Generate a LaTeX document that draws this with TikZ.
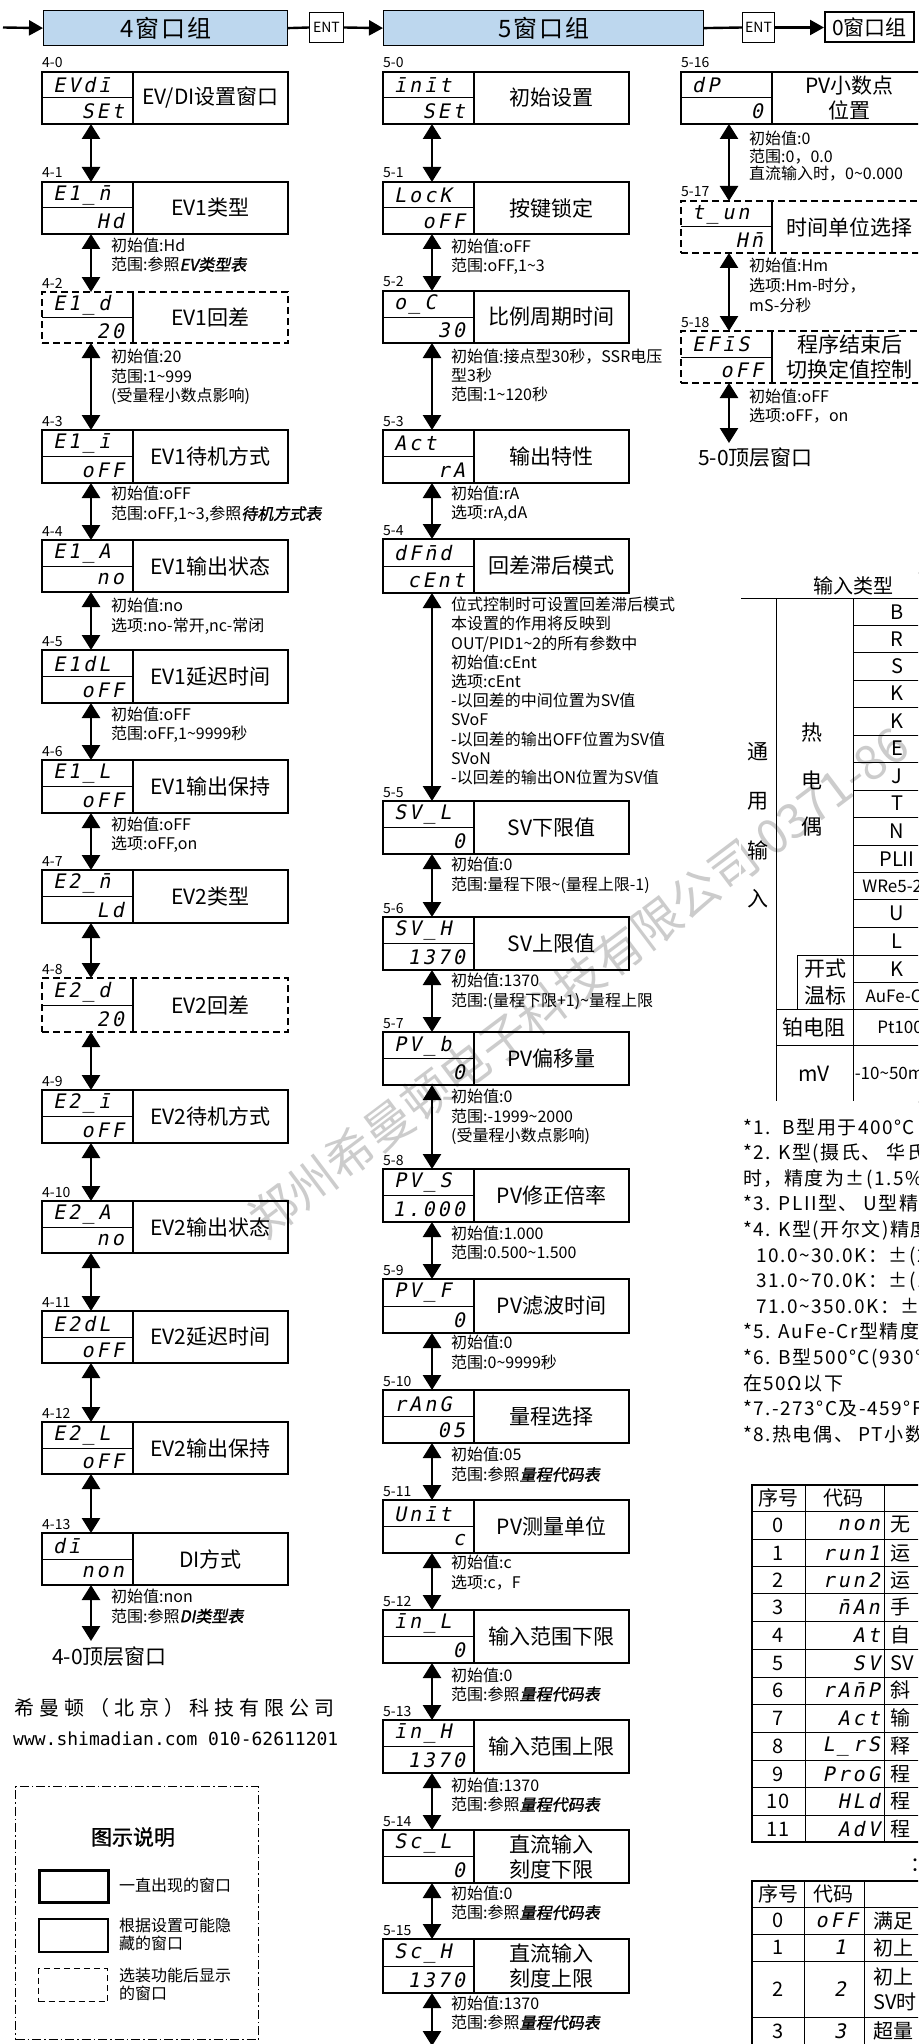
\documentclass[tikz,border=0pt]{standalone}
\usepackage{fontspec}
\setmainfont{Noto Sans CJK SC}
\newfontfamily\segf{DejaVu Sans Mono}[FakeSlant=0.2,LetterSpace=15]
\newfontfamily\bif{Noto Sans CJK SC}[FakeSlant=0.2,FakeBold=1.5]
\newfontfamily\bfnt{Noto Sans CJK SC}[FakeBold=1.2]
\newfontfamily\urlf{DejaVu Sans Mono}
\newfontfamily\cof{Noto Sans CJK SC}[LetterSpace=25]
\newfontfamily\hdf{Noto Sans CJK SC}[LetterSpace=8]
\newfontfamily\fnf{Noto Sans CJK SC}[LetterSpace=8]
\usetikzlibrary{arrows.meta,calc}
\definecolor{hdrblue}{HTML}{BDD7EE}
\newcommand\tl{\textasciitilde}
\newcommand\wb[9]{%
 \node[wbox,#2,minimum height=#5pt,anchor=north west] (#1) at (#3,#4) {};
 \draw[divline] ($(#1.north west)+(91,0)$) -- ($(#1.south west)+(91,0)$);
 \draw[divline,line width=1pt] (#1.west) -- ($(#1.west)+(91,0)$);
 \node[idl] (#1l) at ($(#1.north west)+(0,-4)$) {#6};
 \node[segt,anchor=west] (#1t) at ($(#1.north west)!0.26!(#1.south west)+(11,0)$) {#7};
 \node[segt,anchor=east] (#1b) at ($(#1.north west)!0.76!(#1.south west)+(82,0)$) {#8};
 \node[ttl] (#1n) at ($(#1.center)+(45.5,0)$) {#9};
}
% #3 = baseline of first line
\newcommand\nt[5]{\node[note,font=\fontsize{16}{#4}\selectfont] (#1) at (#2,#3-14) {#5};}
\begin{document}
\begin{tikzpicture}[x=1pt,y=-1pt,
 wbox/.style={draw,line width=2.4pt,rectangle,minimum width=246pt,inner sep=0pt,outer sep=0pt},
 dashbox/.style={line width=1.3pt,dash pattern=on 7pt off 4pt},
 divline/.style={line width=1.2pt},
 idl/.style={font=\fontsize{14}{14}\selectfont,inner sep=0pt,anchor=base west},
 segt/.style={font=\segf\fontsize{20}{20}\selectfont,inner sep=0pt},
 ttl/.style={font=\fontsize{21}{25}\selectfont,align=center,inner sep=0pt},
 dblarr/.style={line width=2.6pt,{Triangle[width=18pt,length=15pt]}-{Triangle[width=18pt,length=15pt]}},
 harr/.style={line width=2.4pt,-{Triangle[width=15pt,length=14pt]}},
 hline/.style={line width=2.4pt},
 note/.style={inner sep=0pt,anchor=north west,align=left},
 hdr/.style={draw,line width=1.2pt,fill=hdrblue,inner sep=0pt,font=\hdf\fontsize{24}{24}\selectfont},
 entb/.style={draw,line width=1pt,fill=white,inner sep=0pt,minimum width=34pt,minimum height=30pt,font=\fontsize{14}{14}\selectfont},
 tline/.style={line width=1pt},
 touter/.style={line width=0.8pt,double,double distance=1.2pt},
 tc/.style={inner sep=0pt,font=\fontsize{20}{20}\selectfont},
 ts/.style={inner sep=0pt,font=\fontsize{17}{17}\selectfont},
 legt/.style={inner sep=0pt,anchor=west,align=left,font=\fontsize{16}{18}\selectfont},
 big/.style={inner sep=0pt,anchor=west,font=\fontsize{21}{21}\selectfont},
]
\useasboundingbox (0,0) rectangle (918,2044);
\begin{scope}
\clip (0,0) rectangle (918,2044);
\fill[white] (0,0) rectangle (918,2044);
% watermark
\node[inner sep=0pt,anchor=west,rotate=37,text=black!20,font=\fontsize{48}{48}\selectfont] (wm) at (254,1226) {郑州希曼顿电子科技有限公司 0371-86};
% header
\coordinate (s0) at (3,27.5);
\node[hdr,minimum width=244pt,minimum height=35pt,anchor=north west] (h4) at (43,10) {4窗口组};
\node[entb,anchor=west] (en1) at (309,27.5) {ENT};
\node[hdr,minimum width=320pt,minimum height=35pt,anchor=north west] (h5) at (383,10) {5窗口组};
\node[entb,anchor=west,minimum width=32pt] (en2) at (742,27.5) {ENT};
\node[draw,line width=2pt,fill=white,inner sep=0pt,minimum width=89pt,minimum height=30pt,anchor=west,font=\fontsize{21}{21}\selectfont] (h0) at (824,27.5) {0窗口组};
\draw[harr] (s0) -- (h4.west);
\draw[hline] (h4.east) -- (en1.west);
\draw[harr] (en1.east) -- (h5.west);
\draw[hline] (h5.east) -- (en2.west);
\draw[harr] (en2.east) -- (h0.west);
% left column
\coordinate (ax4) at (91,0);
\coordinate (ax5) at (432,0);
\coordinate (ax6) at (729,0);
\wb{b40}{}{42}{72}{52}{4-0}{EVd\={i}}{SEt}{EV/DI设置窗口}
\wb{b41}{}{42}{182}{52}{4-1}{E1\_\={n}}{Hd}{EV1类型}
\wb{b42}{dashbox}{42}{292}{51}{4-2}{E1\_d}{20}{EV1回差}
\wb{b43}{}{42}{430}{53}{4-3}{E1\_\={i}}{oFF}{EV1待机方式}
\wb{b44}{}{42}{540}{52}{4-4}{E1\_A}{no}{EV1输出状态}
\wb{b45}{}{42}{650}{53}{4-5}{E1dL}{oFF}{EV1延迟时间}
\wb{b46}{}{42}{760}{53}{4-6}{E1\_L}{oFF}{EV1输出保持}
\wb{b47}{}{42}{870}{53}{4-7}{E2\_\={n}}{Ld}{EV2类型}
\wb{b48}{dashbox}{42}{978}{54}{4-8}{E2\_d}{20}{EV2回差}
\wb{b49}{}{42}{1090}{53}{4-9}{E2\_\={i}}{oFF}{EV2待机方式}
\wb{b410}{}{42}{1201}{52}{4-10}{E2\_A}{no}{EV2输出状态}
\wb{b411}{}{42}{1311}{52}{4-11}{E2dL}{oFF}{EV2延迟时间}
\wb{b412}{}{42}{1422}{52}{4-12}{E2\_L}{oFF}{EV2输出保持}
\wb{b413}{}{42}{1533}{52}{4-13}{d\={i}}{non}{DI方式}
\foreach \a/\b in {b40/b41,b41/b42,b42/b43,b43/b44,b44/b45,b45/b46,b46/b47,b47/b48,b48/b49,b49/b410,b410/b411,b411/b412,b412/b413}
  \draw[dblarr] (\a.south -| ax4) -- (\b.north -| ax4);
\coordinate (e4) at (91,1641);
\draw[dblarr] (b413.south -| ax4) -- (e4);
\nt{n41}{111}{252}{19}{初始值:Hd\\范围:参照{\bif EV类型表}}
\nt{n42}{111}{363}{19.5}{初始值:20\\范围:1\tl{}999\\(受量程小数点影响)}
\nt{n43}{111}{500}{20}{初始值:oFF\\范围:oFF,1\tl{}3,参照{\bif 待机方式表}}
\nt{n44}{111}{612}{20}{初始值:no\\选项:no-常开,nc-常闭}
\nt{n45}{111}{721}{19}{初始值:oFF\\范围:oFF,1\tl{}9999秒}
\nt{n46}{111}{831}{19}{初始值:oFF\\选项:oFF,on}
\nt{n413}{111}{1603}{19.5}{初始值:non\\范围:参照{\bif DI类型表}}
\node[big] (top4) at (52,1657) {4-0顶层窗口};
\node[anchor=west,inner sep=0pt,font=\cof\fontsize{20}{20}\selectfont] (co) at (14,1708) {希曼顿（北京）科技有限公司};
\node[anchor=west,inner sep=0pt,font=\urlf\fontsize{18}{18}\selectfont] (url) at (13,1739) {www.shimadian.com 010-62611201};
% legend
\node[draw,line width=1.2pt,dash pattern=on 9pt off 3pt on 1.5pt off 3pt,minimum width=243pt,minimum height=253pt,inner sep=0pt,anchor=north west] (leg) at (15,1786) {};
\node[inner sep=0pt,font=\bfnt\fontsize{21}{21}\selectfont] (legh) at (133,1837) {图示说明};
\node[draw,line width=3pt,minimum width=69pt,minimum height=32pt,anchor=north west,inner sep=0pt] (lg1) at (38,1869) {};
\node[legt] (lt1) at (119,1885) {一直出现的窗口};
\node[draw,line width=1.5pt,minimum width=69pt,minimum height=33pt,anchor=north west,inner sep=0pt] (lg2) at (38,1918) {};
\node[legt] (lt2) at (119,1934) {根据设置可能隐\\藏的窗口};
\node[draw,line width=1.3pt,dash pattern=on 6pt off 4pt,minimum width=69pt,minimum height=33pt,anchor=north west,inner sep=0pt] (lg3) at (38,1968) {};
\node[legt] (lt3) at (119,1984) {选装功能后显示\\的窗口};
% middle column
\wb{b50}{}{383}{72}{52}{5-0}{\={i}n\={i}t}{SEt}{初始设置}
\wb{b51}{}{383}{182}{52}{5-1}{LocK}{oFF}{按键锁定}
\wb{b52}{}{383}{291}{52}{5-2}{o\_C}{30}{比例周期时间}
\wb{b53}{}{383}{430}{53}{5-3}{Act}{rA}{输出特性}
\wb{b54}{}{383}{539}{54}{5-4}{dF\={n}d}{cEnt}{回差滞后模式}
\wb{b55}{}{383}{801}{53}{5-5}{SV\_L}{0}{SV下限值}
\wb{b56}{}{383}{917}{53}{5-6}{SV\_H}{1370}{SV上限值}
\wb{b57}{}{383}{1032}{53}{5-7}{PV\_b}{0}{PV偏移量}
\wb{b58}{}{383}{1169}{53}{5-8}{PV\_S}{1.000}{PV修正倍率}
\wb{b59}{}{383}{1279}{54}{5-9}{PV\_F}{0}{PV滤波时间}
\wb{b510}{}{383}{1390}{53}{5-10}{rAnG}{05}{量程选择}
\wb{b511}{}{383}{1500}{53}{5-11}{Un\={i}t}{c}{PV测量单位}
\wb{b512}{}{383}{1610}{53}{5-12}{\={i}n\_L}{0}{输入范围下限}
\wb{b513}{}{383}{1720}{53}{5-13}{\={i}n\_H}{1370}{输入范围上限}
\wb{b514}{}{383}{1830}{53}{5-14}{Sc\_L}{0}{直流输入\\刻度下限}
\wb{b515}{}{383}{1939}{54}{5-15}{Sc\_H}{1370}{直流输入\\刻度上限}
\foreach \a/\b in {b50/b51,b51/b52,b52/b53,b53/b54,b54/b55,b55/b56,b56/b57,b57/b58,b58/b59,b59/b510,b510/b511,b511/b512,b512/b513,b513/b514,b514/b515}
  \draw[dblarr] (\a.south -| ax5) -- (\b.north -| ax5);
\coordinate (e5) at (432,2046);
\draw[dblarr] (b515.south -| ax5) -- (e5);
\nt{n51}{451}{253}{19}{初始值:oFF\\范围:oFF,1\tl{}3}
\nt{n52}{451}{363}{19}{初始值:接点型30秒，SSR电压\\型3秒\\范围:1\tl{}120秒}
\nt{n53}{451}{500}{19}{初始值:rA\\选项:rA,dA}
\nt{n54}{451}{611}{19.2}{位式控制时可设置回差滞后模式\\本设置的作用将反映到\\OUT/PID1\tl{}2的所有参数中\\初始值:cEnt\\选项:cEnt\\-以回差的中间位置为SV值\\SVoF\\-以回差的输出OFF位置为SV值\\SVoN\\-以回差的输出ON位置为SV值}
\nt{n55}{451}{871}{20}{初始值:0\\范围:量程下限\tl{}(量程上限-1)}
\nt{n56}{451}{987}{20}{初始值:1370\\范围:(量程下限+1)\tl{}量程上限}
\nt{n57}{451}{1103}{19.5}{初始值:0\\范围:-1999\tl{}2000\\(受量程小数点影响)}
\nt{n58}{451}{1240}{19}{初始值:1.000\\范围:0.500\tl{}1.500}
\nt{n59}{451}{1349}{20}{初始值:0\\范围:0\tl{}9999秒}
\nt{n510}{451}{1461}{20}{初始值:05\\范围:参照{\bif 量程代码表}}
\nt{n511}{451}{1569}{20}{初始值:c\\选项:c，F}
\nt{n512}{451}{1682}{18.5}{初始值:0\\范围:参照{\bif 量程代码表}}
\nt{n513}{451}{1792}{19}{初始值:1370\\范围:参照{\bif 量程代码表}}
\nt{n514}{451}{1900}{19}{初始值:0\\范围:参照{\bif 量程代码表}}
\nt{n515}{451}{2010}{19}{初始值:1370\\范围:参照{\bif 量程代码表}}
% right column
\wb{b516}{}{681}{72}{52}{5-16}{dP}{0}{PV小数点\\位置}
\wb{b517}{dashbox}{681}{201}{52}{5-17}{t\_un}{H\={n}}{时间单位选择}
\wb{b518}{dashbox}{681}{331}{52}{5-18}{EF\={i}S}{oFF}{程序结束后\\切换定值控制}
\draw[dblarr] (b516.south -| ax6) -- (b517.north -| ax6);
\draw[dblarr] (b517.south -| ax6) -- (b518.north -| ax6);
\coordinate (e6) at (729,443);
\draw[dblarr] (b518.south -| ax6) -- (e6);
\nt{n516}{749}{145}{17.5}{初始值:0\\范围:0，0.0\\直流输入时，0\tl{}0.000}
\nt{n517}{749}{272}{20}{初始值:Hm\\选项:Hm-时分，\\mS-分秒}
\nt{n518}{749}{403}{19}{初始值:oFF\\选项:oFF，on}
\node[big] (top5) at (698,458) {5-0顶层窗口};
% input type table
\draw[tline] (776,598.5) -- (776,1102);
\draw[tline] (853,598.5) -- (853,1102);
\foreach \yy in {625.5,652.8,680,707,735,762,790,817,845,872.7,899.6,927.6,955,982.6} \draw[tline] (853,\yy) -- (990,\yy);
\draw[tline] (740,598.5) -- (990,598.5);
\draw[tline] (797,955) -- (853,955);
\draw[tline] (797,955) -- (797,1009);
\draw[tline] (776,1009) -- (990,1009);
\draw[tline] (776,1045) -- (990,1045);
\draw[touter] (990,573) -- (740,573) -- (740,1102) -- (990,1102);
\node[tc] (thd) at (853,586) {输入类型};
\foreach \t/\yy [count=\i] in {B/612,R/639,S/666.4,K/693.5,K/721,E/748.5,J/776,T/803.5,N/831,PLII/859,U/913.6,L/941,K/968.8}
  \node[tc] (tv\i) at (897,\yy) {\t};
\node[ts] (tw1) at (897,886) {WRe5-26};
\node[ts] (tw2) at (897,995.8) {AuFe-Cr};
\node[ts] (tw3) at (900,1027) {Pt100};
\node[ts] (tw4) at (894,1073.5) {-10\tl{}50mV};
\foreach \t/\yy [count=\i] in {通/752,用/801,输/850,入/899}
  \node[tc,font=\fontsize{21}{21}\selectfont] (tg\i) at (758,\yy) {\t};
\foreach \t/\yy [count=\i] in {热/733,电/780,偶/827}
  \node[tc,font=\fontsize{21}{21}\selectfont] (tr\i) at (812,\yy) {\t};
\node[tc,font=\fontsize{21}{21}\selectfont] (tk1) at (825,968.8) {开式};
\node[tc,font=\fontsize{21}{21}\selectfont] (tk2) at (825,995.8) {温标};
\node[tc,font=\fontsize{21}{21}\selectfont] (tpt) at (814,1027) {铂电阻};
\node[tc,font=\fontsize{21}{21}\selectfont] (tmv) at (814,1073.5) {mV};
% footnotes
\node[note,font=\fnf\fontsize{19}{25.6}\selectfont] (fn) at (743,1118) {*1.\ \ B型用于400°C\\*2. K型(摄氏、 华氏\\时，精度为±(1.5\%\\*3. PLII型、 U型精度\\*4. K型(开尔文)精度\\\hspace*{13pt}10.0\tl{}30.0K：±(2\\\hspace*{13pt}31.0\tl{}70.0K：±(1\\\hspace*{13pt}71.0\tl{}350.0K：±\\*5. AuFe-Cr型精度\\*6. B型500°C(930°\\在50Ω以下\\*7.-273°C及-459°F\\*8.热电偶、 PT小数};
% table DI codes
\draw[line width=1.8pt] (990,1485) -- (752,1485) -- (752,1842) -- (990,1842);
\draw[tline] (805,1485) -- (805,1842);
\draw[tline] (884,1485) -- (884,1842);
\foreach \yy in {1511,1539,1566.6,1593.7,1621,1649,1677,1704,1732,1760,1787.5,1815} \draw[tline] (752,\yy) -- (990,\yy);
\node[tc] (d0a) at (778,1498) {序号};
\node[tc] (d0b) at (843,1498) {代码};
\foreach \c/\d/\yy [count=\i from 0] in {non/无/1525,run1/运/1553,run2/运/1580,\={n}An/手/1607,At/自/1635,SV/SV/1663,rA\={n}P/斜/1690,Act/输/1718,L\_rS/释/1746,ProG/程/1774,HLd/程/1801,AdV/程/1829}{
  \node[tc] (dn\i) at (778,\yy) {\i};
  \node[segt,anchor=east] (dc\i) at (880,\yy) {\c};
  \node[tc,anchor=west] (dd\i) at (890,\yy) {\d};
}
\node[tc,anchor=west] (cap) at (910,1865) {：};
% table standby codes
\draw[line width=1.8pt] (990,1881) -- (752,1881) -- (752,2060);
\draw[tline] (804,1881) -- (804,2060);
\draw[tline] (864,1881) -- (864,2060);
\foreach \yy in {1907,1934,1961,2017} \draw[tline] (752,\yy) -- (990,\yy);
\node[tc] (s0a) at (778,1894) {序号};
\node[tc] (s0b) at (833,1894) {代码};
\node[tc] (sn0) at (778,1920.5) {0};
\node[tc] (sn1) at (778,1947.5) {1};
\node[tc] (sn2) at (778,1989) {2};
\node[tc] (sn3) at (778,2031) {3};
\node[segt,anchor=east] (sc0) at (858,1920.5) {oFF};
\node[segt] (sc1) at (840,1947.5) {1};
\node[segt] (sc2) at (840,1989) {2};
\node[segt] (sc3) at (840,2031) {3};
\node[tc,anchor=west] (sd0) at (873,1920.5) {满足};
\node[tc,anchor=west] (sd1) at (873,1947.5) {初上};
\node[tc,anchor=west,align=left,font=\fontsize{20}{25}\selectfont] (sd2) at (873,1989) {初上\\SV时};
\node[tc,anchor=west] (sd3) at (873,2031) {超量};
\end{scope}
\end{tikzpicture}
\end{document}
